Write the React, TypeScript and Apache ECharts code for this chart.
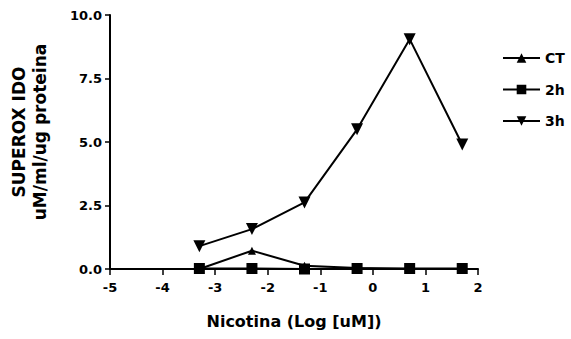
import React, { useEffect, useRef } from "react";
import * as echarts from "echarts";

const xValues = [-3.3, -2.3, -1.3, -0.3, 0.7, 1.7];
const ctValues = [0.0, 0.72, 0.13, 0.04, 0.0, 0.0];
const h2Values = [0.02, 0.02, 0.0, 0.02, 0.02, 0.02];
const h3Values = [0.9, 1.57, 2.62, 5.5, 9.05, 4.9];
const seriesNames = ["CT", "2h", "3h"];

const pair = (ys: number[]) => xValues.map((x, i) => [x, ys[i]]);

export default function App() {
  const ref = useRef<HTMLDivElement>(null);
  useEffect(() => {
    if (!ref.current) return;
    const chart = echarts.init(ref.current, undefined, { renderer: "svg" });
    const font = "DejaVu Sans, sans-serif";
    const lineStyle = { color: "#000", width: 2 };
    chart.setOption({
      animation: false,
      backgroundColor: "#fff",
      textStyle: { fontFamily: font, color: "#000", fontWeight: "bold" },
      grid: { left: 110, right: 93, top: 15, bottom: 70, containLabel: false, outerBoundsMode: "none" },
      legend: {
        orient: "vertical",
        left: 497,
        top: 46,
        itemWidth: 37,
        itemHeight: 12,
        itemGap: 17.5,
        textStyle: { fontSize: 14, color: "#000", fontFamily: font, fontWeight: "bold" },
        data: seriesNames,
      },
      xAxis: {
        type: "value",
        min: -5,
        max: 2,
        interval: 1,
        name: "Nicotina (Log [uM])",
        nameLocation: "middle",
        nameGap: 44,
        nameTextStyle: { fontSize: 16, color: "#000", fontFamily: font, fontWeight: "bold" },
        axisLine: { onZero: false, lineStyle: { color: "#000", width: 2 } },
        axisTick: { show: true, length: 6, lineStyle: { color: "#000", width: 1.5 } },
        axisLabel: { fontSize: 13, color: "#000", margin: 12, fontFamily: font, fontWeight: "bold" },
        splitLine: { show: false },
      },
      yAxis: {
        type: "value",
        min: 0,
        max: 10,
        interval: 2.5,
        name: "SUPEROX IDO\nuM/ml/ug proteina",
        nameLocation: "middle",
        nameGap: 60,
        nameRotate: 90,
        nameTextStyle: {
          fontSize: 17,
          color: "#000",
          fontFamily: font,
          fontWeight: "bold",
          lineHeight: 21,
          padding: [0, 0, 0, 20],
        },
        axisLine: { show: true, onZero: false, lineStyle: { color: "#000", width: 2 } },
        axisTick: { show: true, length: 5, lineStyle: { color: "#000", width: 1.5 } },
        axisLabel: {
          fontSize: 13,
          color: "#000",
          margin: 8,
          fontFamily: font,
          fontWeight: "bold",
          formatter: (v: number) => v.toFixed(1),
        },
        splitLine: { show: false },
      },
      series: [
        {
          name: "CT",
          type: "line",
          data: pair(ctValues),
          symbol: "triangle",
          symbolSize: 8,
          itemStyle: { color: "#000" },
          lineStyle,
        },
        {
          name: "2h",
          type: "line",
          data: pair(h2Values),
          symbol: "rect",
          symbolSize: 11,
          itemStyle: { color: "#000" },
          lineStyle,
        },
        {
          name: "3h",
          type: "line",
          data: pair(h3Values),
          symbol: "triangle",
          symbolRotate: 180,
          symbolSize: 12,
          itemStyle: { color: "#000" },
          lineStyle,
        },
      ],
    });
    return () => chart.dispose();
  }, []);
  return <div ref={ref} style={{ width: 571, height: 339, position: "absolute", left: 0, top: 0 }} />;
}
